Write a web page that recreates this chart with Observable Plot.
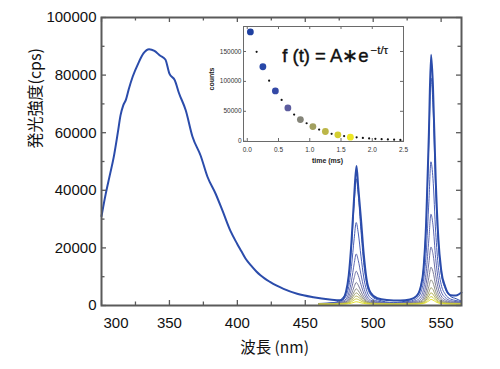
<!DOCTYPE html>
<html><head><meta charset="utf-8">
<script src="https://cdn.jsdelivr.net/npm/d3@7"></script>
<script src="https://cdn.jsdelivr.net/npm/@observablehq/plot@0.6"></script>
<style>
body{margin:0;background:#fff;}
#wrap{position:relative;width:500px;height:369px;overflow:hidden;}
#inset{position:absolute;left:200px;top:20px;}
</style></head><body><div id="wrap"><div id="main"></div><div id="inset"></div></div>
<script>
// ---- main spectrum data (nm, cps) ----
const steadyWl = [300,303,306,309,312,314,316,318,320,323,327,331,335,339,343,347,350,354,357,362,367,373,378,384,389,395,400,403,406,410,414,417,420,424,429,434,444,456,468,476,478,480,482,484,486,487.7,489,491,493,495,498,503,510,520,527,532,535,537,539,541,542.6,544,546,548,550,553,557,561,565];
const steadyVal = [31000,38500,45000,51500,60000,66000,69500,71500,75000,79500,84000,87600,89000,88400,86800,85400,80500,78200,73800,67800,58600,52000,44700,38800,33000,25800,21300,18800,16300,13900,11800,10500,9400,8200,6900,5800,4100,2900,2100,1800,2400,4800,10500,22000,38000,48400,41000,30000,18000,9500,4500,2500,1900,1700,2100,3300,6500,12500,29000,60000,87100,76000,44000,23000,12500,6500,3600,3500,4500];

// time-gated spectra
const gateWl = [460,472,477,480,482,484,486,487.5,489,491,493,495,498,503,515,527,532,535,537,539,541,542.5,544,546,548,550,553,557,561,565];
const gate1  = [700,1100,2480,4620,9760,20460,35440,44000,38440,26020,14900,8050,3770,2060,1000,1980,3530,6650,12870,28430,57220,79000,69660,40100,20650,11310,5870,3150,2370,1500];
const gate2  = [650,950,1830,3220,6560,13510,23240,28800,25190,17120,9900,5450,2670,1560,850,1490,2470,4420,8340,18120,36210,49900,44030,25450,13230,7360,3930,2220,1730,1300];
const gate3  = [600,800,1410,2260,4300,8550,14500,17900,15690,10760,6340,3620,1920,1240,750,1210,1820,3060,5520,11680,23080,31700,28000,16300,8600,4900,2750,1670,1360,1150];
const gate4  = [550,700,1133,1688,3020,5795,9680,11900,10460,7240,4350,2580,1470,1020,700,995,1385,2165,3725,7625,14840,20300,17960,10550,5675,3335,1970,1290,1090,995];
const gate5  = [550,700,919,1284,2160,3985,6540,8000,7050,4930,3040,1870,1140,850,650,826,1078,1582,2590,5110,9770,13300,11790,7000,3850,2340,1460,1015,889,826];
const gate6  = [520,650,805,1060,1680,2970,4770,5800,5130,3640,2300,1470,960,750,620,730,900,1230,1890,3540,6590,8900,7910,4780,2710,1720,1150,860,775,730];
const gate7  = [500,600,715,905,1360,2310,3640,4400,3910,2800,1820,1210,830,680,580,655,770,990,1440,2560,4630,6200,5530,3400,2000,1330,935,740,685,655];
const gate8  = [480,560,630,770,1100,1790,2750,3300,2940,2150,1430,990,715,605,550,590,665,820,1130,1900,3320,4400,3940,2475,1510,1050,780,645,610,590];
const gate9  = [460,500,554,644,860,1310,1940,2300,2070,1540,1080,790,610,536,500,526,578,682,890,1410,2370,3100,2790,1800,1150,840,656,565,540,526];
const gate10 = [450,460,475,520,620,830,1130,1300,1190,940,720,590,500,467,450,467,500,565,700,1030,1640,2100,1900,1275,860,665,550,490,475,467];
const gateSeries = [gate1,gate2,gate3,gate4,gate5,gate6,gate7,gate8,gate9,gate10];
const gateColors = ["#3050b0","#4a5fb8","#5d68b2","#6c70a8","#7c7c98","#8c8c84","#9e9e6c","#b4b256","#cac840","#e2e02a"];

// axis ticks
const xMajor = [300,350,400,450,500,550];
const xMinor = [325,375,425,475,525];
const yMajor = [0,20000,40000,60000,80000,100000];
const yMinor = [10000,30000,50000,70000,90000];

// ---- inset decay data (ms, counts) ----
const bigT = [0.05,0.25,0.45,0.65,0.85,1.05,1.25,1.45,1.65];
const bigCounts = [182800,124500,84000,55600,36200,24500,16200,10600,6700];
const bigColors = ["#1f40a0","#2848a8","#3449a6","#5c5c9e","#848478","#a2a060","#bcb648","#d4ce30","#ece624"];
const smallT = [0.15,0.35,0.55,0.75,0.95,1.15,1.35,1.55,1.75,1.85,1.95,2.05,2.15,2.25,2.35,2.45];
const smallCounts = [149500,101200,69000,44500,30000,19500,12300,8600,6500,5500,4700,4000,3400,2900,2500,2100];
const insetXTicks = [0,0.5,1,1.5,2,2.5];
const insetYTicks = [0,50000,100000,150000];

const FONT = "'Liberation Sans', Arial, Helvetica, sans-serif";
const JP = "'Noto Sans CJK JP', 'Liberation Sans', sans-serif";

const W = 500, H = 369, mL = 101, mR = 39, mT = 17, mB = 64;
const iw = W - mL - mR, ih = H - mT - mB;

const steady = steadyWl.map((w, i) => ({w, v: steadyVal[i]}));
const gateLines = gateSeries.map((s, k) =>
  Plot.line(gateWl.map((w, i) => ({w, v: s[i]})), {x: "w", y: "v", stroke: gateColors[k], strokeWidth: 1, curve: "monotone-x"}));

const frameColor = "#5a5a5a";
const main = Plot.plot({
  width: W, height: H,
  marginLeft: mL, marginRight: mR, marginTop: mT, marginBottom: mB,
  style: {fontFamily: FONT, background: "white", color: "#111"},
  x: {domain: [300, 565], axis: null},
  y: {domain: [0, 100000], axis: null},
  marks: [
    ...gateLines,
    Plot.line(steady, {x: "w", y: "v", stroke: "#2b4cab", strokeWidth: 2, curve: "monotone-x"}),
    // inward ticks
    Plot.tickX(xMajor, {x: d => d, insetTop: ih - 5, stroke: frameColor, strokeWidth: 1.3}),
    Plot.tickX(xMajor, {x: d => d, insetBottom: ih - 5, stroke: frameColor, strokeWidth: 1.3}),
    Plot.tickX(xMinor, {x: d => d, insetTop: ih - 3.5, stroke: frameColor, strokeWidth: 1.3}),
    Plot.tickX(xMinor, {x: d => d, insetBottom: ih - 3.5, stroke: frameColor, strokeWidth: 1.3}),
    Plot.tickY(yMajor, {y: d => d, insetRight: iw - 5, stroke: frameColor, strokeWidth: 1.3}),
    Plot.tickY(yMajor, {y: d => d, insetLeft: iw - 5, stroke: frameColor, strokeWidth: 1.3}),
    Plot.tickY(yMinor, {y: d => d, insetRight: iw - 3.5, stroke: frameColor, strokeWidth: 1.3}),
    Plot.tickY(yMinor, {y: d => d, insetLeft: iw - 3.5, stroke: frameColor, strokeWidth: 1.3}),
    Plot.frame({stroke: frameColor, strokeWidth: 2}),
    // tick labels
    Plot.text(yMajor, {y: d => d, text: d => String(d), frameAnchor: "left", textAnchor: "end", dx: -5, fontSize: 15, fill: "#111"}),
    Plot.text(xMajor.filter(d => d !== 300), {x: d => d, text: d => String(d), frameAnchor: "bottom", dy: 17.5, lineAnchor: "middle", fontSize: 15, fill: "#111"}),
    Plot.text([300], {x: d => d, text: d => String(d), frameAnchor: "bottom", dy: 17.5, dx: 2, textAnchor: "start", lineAnchor: "middle", fontSize: 15, fill: "#111"}),
    // axis titles
    Plot.text(["波長 (nm)"], {frameAnchor: "bottom", dx: -7, dy: 43, lineAnchor: "middle", fontSize: 15.5, fontFamily: JP, fill: "#111"}),
    Plot.text(["発光強度(cps)"], {frameAnchor: "left", dx: -66, dy: -13, rotate: -90, lineAnchor: "middle", fontSize: 16, fontFamily: JP, fill: "#111"})
  ]
});
document.getElementById("main").appendChild(main);

// ---- inset ----
const IW = 215, IH = 150, iL = 43, iR = 12, iT = 6, iB = 29;
const iiw = IW - iL - iR, iih = IH - iT - iB;
const ic = "#6a6a6a";
const big = bigT.map((t, i) => ({t, c: bigCounts[i], col: bigColors[i]}));
const small = smallT.map((t, i) => ({t, c: smallCounts[i]}));
const inset = Plot.plot({
  width: IW, height: IH,
  marginLeft: iL, marginRight: iR, marginTop: iT, marginBottom: iB,
  style: {fontFamily: FONT, background: "transparent", color: "#222"},
  x: {domain: [-0.06, 2.5], axis: null},
  y: {domain: [-500, 191800], axis: null},
  marks: [
    Plot.frame({fill: "white", stroke: "none"}),
    Plot.tickX(insetXTicks, {x: d => d, insetTop: iih - 3, stroke: ic}),
    Plot.tickX(insetXTicks, {x: d => d, insetBottom: iih - 3, stroke: ic}),
    Plot.tickY(insetYTicks, {y: d => d, insetRight: iiw - 3, stroke: ic}),
    Plot.tickY(insetYTicks, {y: d => d, insetLeft: iiw - 3, stroke: ic}),
    Plot.frame({stroke: ic, strokeWidth: 1}),
    Plot.text(insetXTicks, {x: d => d, text: d => d.toFixed(1), frameAnchor: "bottom", dy: 8, lineAnchor: "middle", fontSize: 6.5, fill: "#333"}),
    Plot.text(insetYTicks, {y: d => d, text: d => String(d), frameAnchor: "left", textAnchor: "end", dx: -2, fontSize: 6.5, fill: "#333"}),
    Plot.text(["counts"], {frameAnchor: "left", dx: -31.3, dy: 6.5, rotate: -90, lineAnchor: "middle", fontSize: 7, fontWeight: "bold", fill: "#222"}),
    Plot.text(["time (ms)"], {frameAnchor: "bottom", dx: 4, dy: 19.7, lineAnchor: "middle", fontSize: 7, fontWeight: "bold", fill: "#222"}),
    Plot.dot(small, {x: "t", y: "c", r: 1.1, fill: "#111", stroke: "none"}),
    Plot.dot(big, {x: "t", y: "c", r: 3.4, fill: "col", stroke: "none"}),
    Plot.text(["f (t) = A∗e"], {frameAnchor: "top-left", dx: 38.7, dy: 35.5, textAnchor: "start", lineAnchor: "bottom", fontSize: 18.5, fill: "#111", stroke: "#111", strokeWidth: 0.4}),
    Plot.text(["−t/τ"], {frameAnchor: "top-left", dx: 127, dy: 27, textAnchor: "start", lineAnchor: "bottom", fontSize: 11.5, fill: "#111", stroke: "#111", strokeWidth: 0.2})
  ]
});
document.getElementById("inset").appendChild(inset);
</script>
</body></html>
